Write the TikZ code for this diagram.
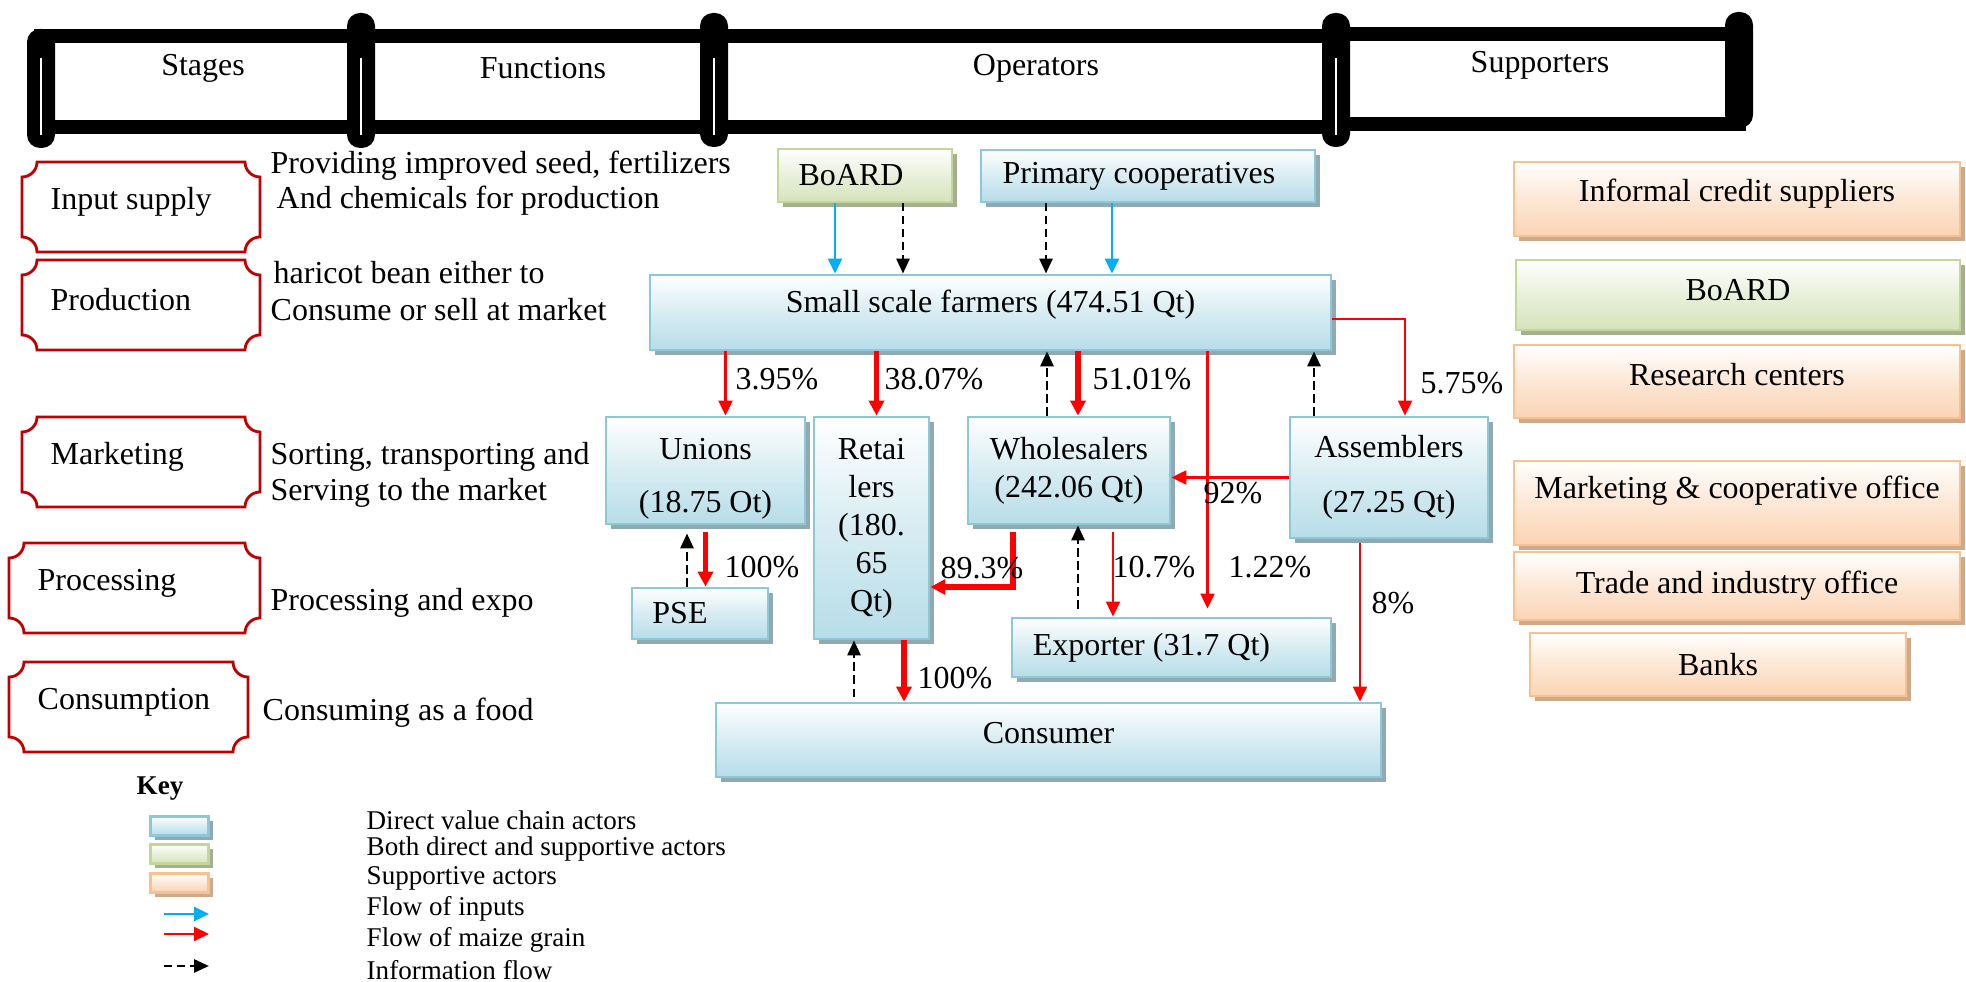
\documentclass[tikz,border=0pt]{standalone}
\usepackage{fontspec}
\setmainfont{Liberation Serif}
\usetikzlibrary{positioning,calc,arrows.meta,shadows}

\definecolor{actorline}{RGB}{140,200,218}
\definecolor{actorfill}{RGB}{183,221,232}
\definecolor{actorshadow}{RGB}{145,170,178}
\definecolor{bothline}{RGB}{196,215,155}
\definecolor{bothfill}{RGB}{214,227,188}
\definecolor{bothshadow}{RGB}{165,175,145}
\definecolor{suppline}{RGB}{250,192,144}
\definecolor{suppfill}{RGB}{251,212,180}
\definecolor{suppshadow}{RGB}{205,170,140}
\definecolor{stagered}{RGB}{192,0,0}
\definecolor{inputblue}{RGB}{0,176,240}

\begin{document}
\begin{tikzpicture}[font=\fontsize{9.1}{10.8}\selectfont,
    box/.style={draw=#1line, line width=0.8pt, top color=white, bottom color=#1fill, middle color=#1fill!55, inner sep=0pt,
        drop shadow={shadow xshift=0.045cm, shadow yshift=-0.05cm, opacity=1, fill=#1shadow}},
    actor/.style={box=actor},
    both/.style={box=both},
    supp/.style={box=supp},
    stageline/.style={draw=stagered, line width=0.8pt, fill=white},
    scrollband/.style={draw=black, line width=0.14cm},
    lefttext/.style={anchor=west, inner xsep=0pt},
    inflow/.style={inputblue, line width=0.8pt, -{Triangle[length=0.15cm,width=0.14cm]}},
    grain/.style={red, line width=0.6pt, -{Triangle[length=0.15cm,width=0.14cm]}},
    bulk/.style={red, line width=1.5pt, -{Triangle[length=0.15cm,width=0.15cm]}},
    info/.style={black, line width=0.8pt, dash pattern=on 2.3pt off 1.4pt, -{Triangle[length=0.15cm,width=0.13cm]}},
    keytext/.style={lefttext, font=\fontsize{7.7}{9}\selectfont}]
    \useasboundingbox (0,0) rectangle (19.66,9.82);

    % header scroll
    \foreach \xa/\xb in {0.41/3.61, 3.61/7.14, 7.14/13.36} {
        \draw[scrollband] (\xa,8.55) rectangle (\xb,9.46);
    }
    \draw[scrollband] (13.36,8.58) rectangle (17.39,9.48);
    \foreach \x/\ya/\yb in {0.41/8.34/9.53, 3.61/8.34/9.69, 7.14/8.35/9.69, 13.36/8.35/9.69} {
        \fill[rounded corners=0.13cm] (\x-0.14,\ya) rectangle (\x+0.14,\yb);
        \draw[white, line width=0.4pt] (\x,8.47) -- (\x,9.24);
    }
    \fill[rounded corners=0.13cm] (17.25,8.54) rectangle (17.53,9.70);
    \node (stages) at (2.03,9.14) {Stages};
    \node (functions) at (5.43,9.14) {Functions};
    \node (operators) at (10.36,9.14) {Operators};
    \node (supporters) at (15.40,9.17) {Supporters};

    % stages
    \foreach \xa/\ya/\xb/\yb/\nm/\txt in {0.22/8.20/2.60/7.30/input/Input supply,
            0.22/7.22/2.60/6.32/prod/Production, 0.22/5.65/2.60/4.75/mark/Marketing,
            0.09/4.39/2.60/3.49/proc/Processing, 0.09/3.20/2.48/2.30/cons/Consumption} {
        \draw[stageline] (\xa+0.15,\ya) -- (\xb-0.15,\ya) arc[start angle=180, end angle=270, radius=0.15]
            -- (\xb,\yb+0.15) arc[start angle=90, end angle=180, radius=0.15]
            -- (\xa+0.15,\yb) arc[start angle=0, end angle=90, radius=0.15]
            -- (\xa,\ya-0.15) arc[start angle=270, end angle=360, radius=0.15] -- cycle;
        \node[lefttext] (\nm) at (\xa+0.28,{(\ya+\yb)/2+0.05}) {\txt};
    }

    % functions
    \node[lefttext] (f1) at (2.70,8.16) {Providing improved seed, fertilizers};
    \node[lefttext] (f2) at (2.76,7.81) {And chemicals for production};
    \node[lefttext] (f3) at (2.73,7.09) {haricot bean either to};
    \node[lefttext] (f4) at (2.70,6.72) {Consume or sell at market};
    \node[lefttext] (f5) at (2.70,5.25) {Sorting, transporting and};
    \node[lefttext] (f6) at (2.70,4.89) {Serving to the market};
    \node[lefttext] (f7) at (2.70,3.79) {Processing and expo};
    \node[lefttext] (f8) at (2.62,2.69) {Consuming as a food};

    % operators
    \node[both, minimum width=1.74cm, minimum height=0.53cm] (boardop) at (8.65,8.065) {BoARD\hspace*{0.28cm}};
    \node[actor, minimum width=3.34cm, minimum height=0.52cm] (prim) at (11.48,8.06) {Primary cooperatives\hspace*{0.18cm}};
    \node[actor, minimum width=6.81cm, minimum height=0.75cm, text depth=0.22cm] (farm) at (9.905,6.695) {Small scale farmers (474.51 Qt)};
    \node[actor, minimum width=1.99cm, minimum height=1.07cm, align=center] (unions) at (7.055,5.115) {\rule{0pt}{10.8pt}Unions\\[4.4pt](18.75 Ot)};
    \node[actor, minimum width=1.15cm, minimum height=2.22cm, align=center] (retail) at (8.715,4.54) {Retai\\lers\\(180.\\65\\Qt)};
    \node[actor, minimum width=2.02cm, minimum height=1.07cm, align=center] (whole) at (10.69,5.115) {Wholesalers\\(242.06 Qt)};
    \node[actor, minimum width=1.98cm, minimum height=1.21cm, align=center] (assem) at (13.89,5.045) {Assemblers\\[4.8pt](27.25 Qt)};
    \node[actor, minimum width=1.36cm, minimum height=0.51cm] (pse) at (7.00,3.685) {PSE\hspace*{0.40cm}};
    \node[actor, minimum width=3.19cm, minimum height=0.59cm] (export) at (11.715,3.345) {Exporter (31.7 Qt)\hspace*{0.40cm}};
    \node[actor, minimum width=6.65cm, minimum height=0.74cm, text depth=0.14cm] (consumer) at (10.485,2.42) {Consumer};

    % supporters
    \node[supp, minimum width=4.46cm, minimum height=0.74cm, text depth=0.18cm] (credit) at (17.37,7.83) {Informal credit suppliers};
    \node[both, minimum width=4.44cm, minimum height=0.70cm, text depth=0.10cm] (boardsup) at (17.38,6.87) {BoARD};
    \node[supp, minimum width=4.46cm, minimum height=0.73cm, text depth=0.15cm] (research) at (17.37,6.005) {Research centers};
    \node[supp, minimum width=4.46cm, minimum height=0.84cm, text depth=0.31cm] (mco) at (17.37,4.79) {Marketing \& cooperative office};
    \node[supp, minimum width=4.46cm, minimum height=0.68cm] (trade) at (17.37,3.96) {Trade and industry office};
    \node[supp, minimum width=3.76cm, minimum height=0.63cm] (banks) at (17.18,3.175) {Banks};

    % flows
    \draw[inflow] ($(boardop.south)+(-0.30,0)$) -- ($(boardop.south |- farm.north)+(-0.30,0)$);
    \draw[info] ($(boardop.south)+(0.38,0)$) -- ($(boardop.south |- farm.north)+(0.38,0)$);
    \draw[info] ($(prim.south)+(-1.02,0)$) -- ($(prim.south |- farm.north)+(-1.02,0)$);
    \draw[inflow] ($(prim.south)+(-0.36,0)$) -- ($(prim.south |- farm.north)+(-0.36,0)$);

    \draw[grain] ($(unions.north |- farm.south)+(0.20,0)$) -- ($(unions.north)+(0.20,0)$);
    \draw[bulk] ($(retail.north |- farm.south)+(0.05,0)$) -- ($(retail.north)+(0.05,0)$);
    \draw[info] ($(whole.north)+(-0.22,0)$) -- ($(whole.north |- farm.south)+(-0.22,0)$);
    \draw[bulk] ($(whole.north |- farm.south)+(0.09,0)$) -- ($(whole.north)+(0.09,0)$);
    \draw[grain, shorten >=0.08cm] ($(export.north |- farm.south)+(0.36,0)$) -- ($(export.north)+(0.36,0)$);
    \draw[info] ($(assem.north)+(-0.75,0)$) -- ($(assem.north |- farm.south)+(-0.75,0)$);
    \draw[grain] ($(farm.east)+(0,-0.065)$) -| ($(assem.north)+(0.16,0)$);

    \draw[grain] (assem.west) -- (assem.west -| whole.east);
    \draw[bulk] ($(unions.south)+(0,-0.07)$) -- (unions.south |- pse.north);
    \draw[info, shorten >=0.08cm] ($(pse.north)+(-0.13,0)$) -- ($(pse.north |- unions.south)+(-0.13,0)$);
    \draw[bulk] ($(whole.south)+(-0.56,-0.07)$) |- ($(retail.east)+(0,-0.59)$);
    \draw[info, shorten <=0.08cm] ($(export.north)+(-0.935,0)$) -- ($(export.north |- whole.south)+(-0.935,0)$);
    \draw[grain] ($(whole.south)+(0.44,-0.07)$) -- ($(whole.south |- export.north)+(0.44,0)$);
    \draw[bulk] ($(retail.south)+(0.325,0)$) -- ($(retail.south |- consumer.north)+(0.325,0)$);
    \draw[info, shorten <=0.05cm] ($(retail.south |- consumer.north)+(-0.175,0)$) -- ($(retail.south)+(-0.175,0)$);
    \draw[grain] ($(assem.south)+(-0.29,-0.04)$) -- ($(assem.south |- consumer.north)+(-0.29,0)$);

    \node (p1) at (7.77,6.03) {3.95\%};
    \node (p2) at (9.34,6.03) {38.07\%};
    \node (p3) at (11.42,6.03) {51.01\%};
    \node (p4) at (14.62,5.99) {5.75\%};
    \node (p5) at (12.33,4.89) {92\%};
    \node (p6) at (7.62,4.15) {100\%};
    \node (p7) at (9.82,4.14) {89.3\%};
    \node (p8) at (11.54,4.15) {10.7\%};
    \node (p9) at (12.70,4.15) {1.22\%};
    \node (p10) at (13.93,3.79) {8\%};
    \node (p11) at (9.55,3.04) {100\%};

    % key
    \node[font=\fontsize{7.7}{9}\selectfont\bfseries] (key) at (1.60,1.93) {Key};
    \node[actor, minimum width=0.58cm, minimum height=0.19cm, line width=0.6pt] (kdirect) at (1.795,1.56) {};
    \node[both, minimum width=0.58cm, minimum height=0.19cm, line width=0.6pt] (kboth) at (1.795,1.28) {};
    \node[supp, minimum width=0.58cm, minimum height=0.19cm, line width=0.6pt] (ksupp) at (1.795,0.99) {};
    \node[keytext] (tdirect) at (3.66,1.62) {Direct value chain actors};
    \node[keytext] (tboth) at (3.66,1.33) {Both direct and supportive actors};
    \node[keytext] (tsupp) at (3.66,1.04) {Supportive actors};
    \node[keytext] (tinput) at (3.66,0.73) {Flow of inputs};
    \node[keytext] (tgrain) at (3.66,0.42) {Flow of maize grain};
    \node[keytext] (tinfo) at (3.66,0.12) {Information flow};
    \draw[inflow] ($(tinput.west)+(-2.02,-0.05)$) -- ++(0.45,0);
    \draw[grain] ($(tgrain.west)+(-2.02,0.06)$) -- ++(0.45,0);
    \draw[info] ($(tinfo.west)+(-2.02,0.04)$) -- ++(0.45,0);
\end{tikzpicture}
\end{document}
